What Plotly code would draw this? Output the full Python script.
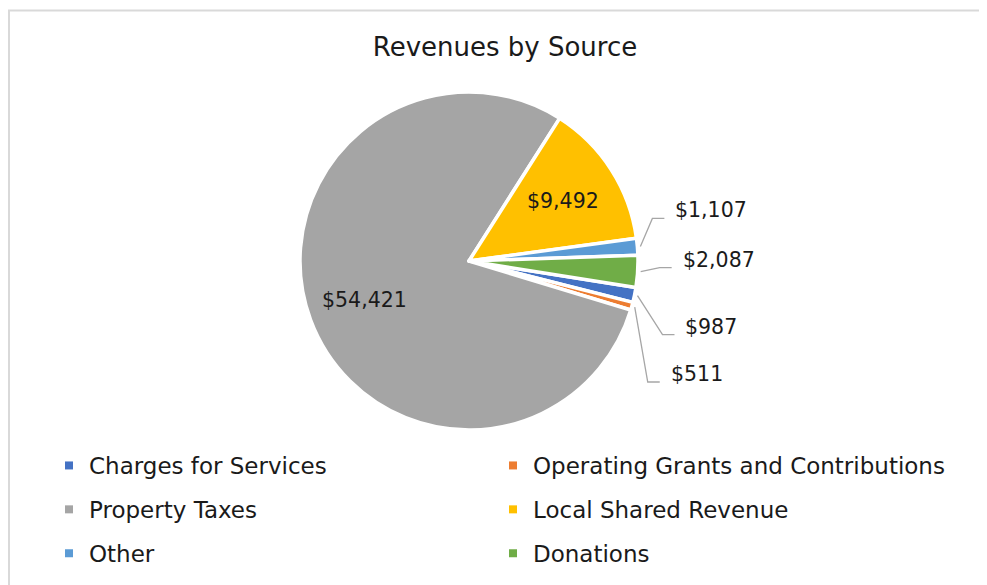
import math
import plotly.graph_objects as go

labels = ["Charges for Services", "Operating Grants and Contributions", "Property Taxes",
          "Local Shared Revenue", "Other", "Donations"]
values = [987, 511, 54421, 9492, 1107, 2087]
colors = ["#4472C4", "#ED7D31", "#A5A5A5", "#FFC000", "#5B9BD5", "#70AD47"]

# the page adds an 8px body margin, so the figure is 8px smaller and shifted
W, H = 979, 577
CX, CY, R = 461, 253, 169
ROT = 99
FONT = "DejaVu Sans"
INK = "#1a1a1a"


def paper(px, py):
    return px / W, 1 - py / H


def polar(angle, r):
    a = math.radians(angle)
    return CX + r * math.sin(a), CY - r * math.cos(a)


total = sum(values)
mids = []
acc = ROT
for v in values:
    span = v / total * 360
    mids.append(acc + span / 2)
    acc += span

fig = go.Figure()
fig.add_trace(go.Pie(labels=labels, values=values, sort=False, direction="clockwise", rotation=ROT,
                     marker=dict(colors=colors, line=dict(color="white", width=3.5)),
                     textinfo="none", hoverinfo="label+value", showlegend=False,
                     domain=dict(x=[(CX - R) / W, (CX + R) / W], y=[1 - (CY + R) / H, 1 - (CY - R) / H])))

# legend entries (two columns)
for i, (lab, col) in enumerate(zip(labels, colors)):
    fig.add_trace(go.Scatter(x=[None], y=[None], mode="markers", name=lab, legendgroup=lab,
                             marker=dict(symbol="square", size=8, color=col),
                             legend="legend" if i % 2 == 0 else "legend2", hoverinfo="skip"))

# elbow offsets of leader lines for the small slices (px from slice edge)
leader = {"Other": (12, -28), "Donations": (19, -4),
          "Charges for Services": (25, 39), "Operating Grants and Contributions": (13, 75)}

annotations = []
shapes = []
for lab, v, m in zip(labels, values, mids):
    txt = f"${v:,}"
    if lab in leader:
        ex, ey = polar(m, R + 3)
        dx, dy = leader[lab]
        kx, ky = ex + dx, ey + dy
        lx = kx + 12
        p0, p1, p2 = paper(ex, ey), paper(kx, ky), paper(lx, ky)
        shapes.append(dict(type="path", xref="paper", yref="paper",
                           path=f"M {p0[0]},{p0[1]} L {p1[0]},{p1[1]} L {p2[0]},{p2[1]}",
                           line=dict(color="#A6A6A6", width=1.3)))
        tx, ty = paper(lx + 9, ky - 8)
        annotations.append(dict(x=tx, y=ty, xref="paper", yref="paper", text=txt, showarrow=False,
                                xanchor="left", yanchor="middle", font=dict(size=20.5, color=INK, family=FONT)))
    else:
        tx, ty = paper(*polar(m, 0.66 * R))
        annotations.append(dict(x=tx, y=ty, xref="paper", yref="paper", text=txt, showarrow=False,
                                xanchor="center", yanchor="middle", font=dict(size=20.5, color=INK, family=FONT)))

# chart area border
shapes.append(dict(type="rect", xref="paper", yref="paper", x0=1 / W, y0=1 - 2.5 / H, x1=1.02, y1=-0.02,
                   line=dict(color="#D9D9D9", width=2), layer="below"))

legend_style = dict(orientation="v", yanchor="top", xanchor="left", tracegroupgap=11,
                    font=dict(size=23, color=INK, family=FONT), bgcolor="rgba(0,0,0,0)")

fig.update_layout(
    width=W, height=H,
    margin=dict(l=0, r=0, t=0, b=0),
    paper_bgcolor="white", plot_bgcolor="white",
    font=dict(family=FONT, color=INK),
    title=dict(text="Revenues by Source", x=497 / W, xanchor="center", y=1 - 39 / H, yanchor="middle",
               font=dict(size=26, color=INK, family=FONT)),
    legend=dict(x=41 / W, y=1 - 436 / H, **legend_style),
    legend2=dict(x=485 / W, y=1 - 436 / H, **legend_style),
    annotations=annotations,
    shapes=shapes,
    xaxis=dict(visible=False),
    yaxis=dict(visible=False),
)

fig.write_html("out.html")
